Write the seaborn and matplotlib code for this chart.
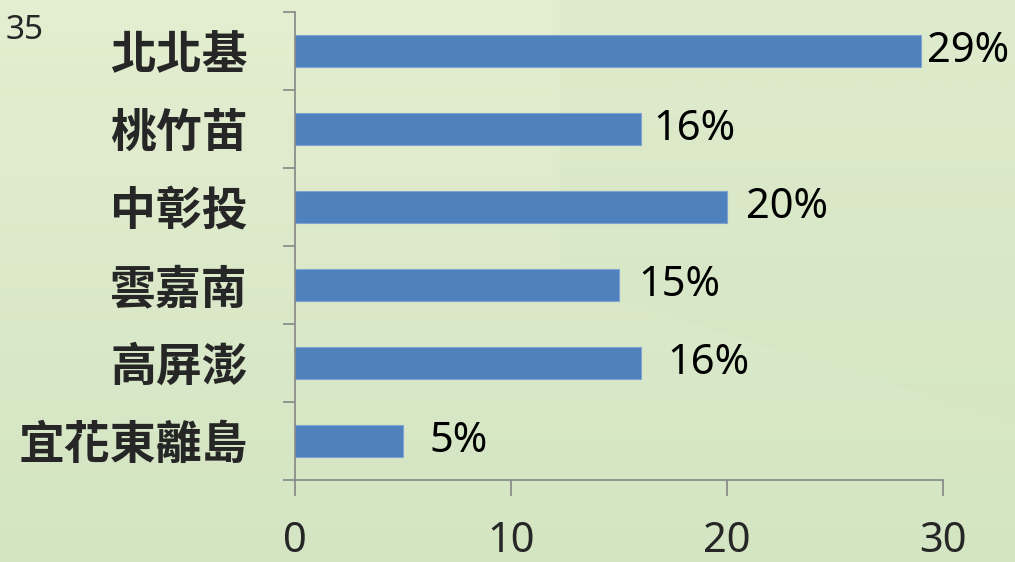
import numpy as np
import pandas as pd
import matplotlib.pyplot as plt
import seaborn as sns
from matplotlib.colors import LinearSegmentedColormap

# datos del gráfico
regiones = ['北北基', '桃竹苗', '中彰投', '雲嘉南', '高屏澎', '宜花東離島']
porcentajes = [29, 16, 20, 15, 16, 5]
etiquetas = ['29%', '16%', '20%', '15%', '16%', '5%']
ticks_x = [0, 10, 20, 30]

# separación de cada etiqueta respecto a la barra (puntos)
separacion = [4, 9, 14, 14, 19, 19]

df = pd.DataFrame({'region': regiones, 'pct': porcentajes})

sns.set_style('white')
plt.rcParams['font.family'] = ['Noto Sans CJK TC', 'DejaVu Sans']

fig = plt.figure(figsize=(10.15, 5.62), dpi=100)

# fondo verde degradado
fondo = fig.add_axes([0, 0, 1, 1], zorder=-5)
h, w = 281, 508
yy, xx = np.mgrid[0:h, 0:w]
grad = yy / h
cuña = ((yy / h) < 0.25 + 0.55 * (xx / w) - 0.05) & (xx / w > 0.55)
grad = grad * 0.8 + 0.25 * cuña * (1 - yy / h)
cmap_fondo = LinearSegmentedColormap.from_list('fondo', ['#e4eed0', '#d9e8c8', '#d0e4c0'])
fondo.imshow(grad, cmap=cmap_fondo, aspect='auto', extent=[0, 1, 0, 1], vmin=0, vmax=1)
fondo.axis('off')

ax = fig.add_axes([0.2906, 0.1459, 0.6384, 0.8327])
ax.set_facecolor('none')

sns.barplot(data=df, x='pct', y='region', orient='h', color='#4f81bd',
            width=0.4, saturation=1, edgecolor='#7fa3d2', linewidth=0.8, ax=ax)

ax.set_xlim(0, 30)
ax.set_ylim(5.5, -0.5)
ax.set_xticks(ticks_x)
ax.set_xticklabels([str(t) for t in ticks_x], family=['Noto Sans'], fontsize=30)
ax.set_yticks(range(len(regiones)))
ax.set_yticklabels(regiones, fontsize=33, fontweight='bold', family=['Noto Sans CJK TC'])
ax.set_yticks(np.arange(-0.5, 6, 1), minor=True)
ax.tick_params(axis='y', which='major', length=0, pad=34)
ax.tick_params(axis='y', which='minor', length=8.6, width=1.2, color='#868686', left=True)
ax.tick_params(axis='x', length=11.5, width=1.2, color='#868686', pad=17, bottom=True)
ax.set_xlabel('')
ax.set_ylabel('')

for lado in ['top', 'right']:
    ax.spines[lado].set_visible(False)
for lado in ['left', 'bottom']:
    ax.spines[lado].set_color('#868686')
    ax.spines[lado].set_linewidth(1.2)

# etiquetas de datos
for i, (v, txt) in enumerate(zip(porcentajes, etiquetas)):
    ax.annotate(txt, xy=(v, i), xytext=(separacion[i], 0), textcoords='offset points',
                ha='left', va='center', fontsize=30, family=['Noto Sans'], color='black')

fig.text(0.005, 0.975, '35', ha='left', va='top', fontsize=24, family=['Noto Sans'])

fig.savefig('out.png', dpi=100)
